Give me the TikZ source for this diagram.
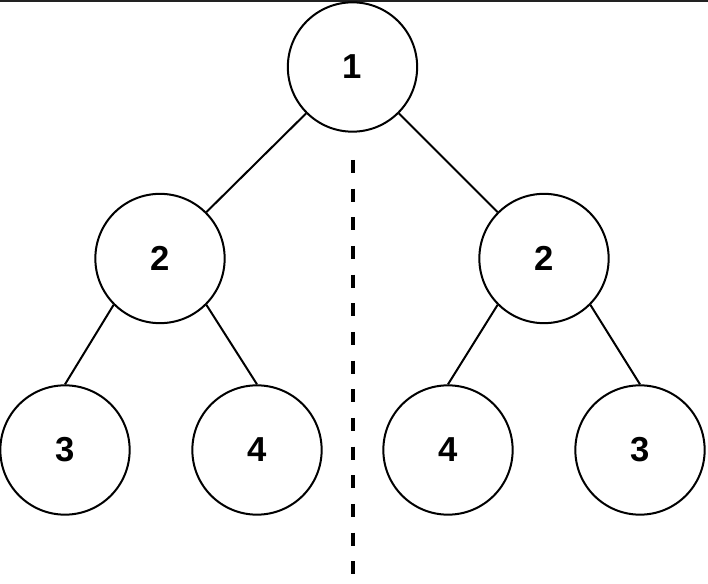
\documentclass[tikz,border=0pt]{standalone}
\usepackage{fontspec}
\setmainfont{Liberation Sans}
\begin{document}
\begin{tikzpicture}[x=0.75pt,y=-0.75pt,
  tn/.style={circle,draw=black,line width=1.5pt,minimum size=97pt,inner sep=0pt,font=\fontsize{26}{26}\selectfont\bfseries},
  edge/.style={line width=1.5pt},
  axis/.style={line width=3pt,dash pattern=on 9.75pt off 11.75pt}]
\useasboundingbox (0,0) rectangle (708,584);
\fill[fill={rgb,255:red,34;green,34;blue,34}] (0,0) rectangle (708,2);
\node[tn] (r) at (352.5,67) {1};
\node[tn] (a) at (160,258.5) {2};
\node[tn] (b) at (544,258.5) {2};
\node[tn] (a1) at (65,450) {3};
\node[tn] (a2) at (257,450) {4};
\node[tn] (b1) at (448,450) {4};
\node[tn] (b2) at (640,450) {3};
\coordinate (top) at (352.5,160);
\coordinate (bot) at (352.5,584);
\draw[edge] (r.south west) -- (a.north east);
\draw[edge] (r.south east) -- (b.north west);
\draw[edge] (a.south west) -- (a1.north);
\draw[edge] (a.south east) -- (a2.north);
\draw[edge] (b.south west) -- (b1.north);
\draw[edge] (b.south east) -- (b2.north);
\draw[axis] (top) -- (bot);
\end{tikzpicture}
\end{document}
